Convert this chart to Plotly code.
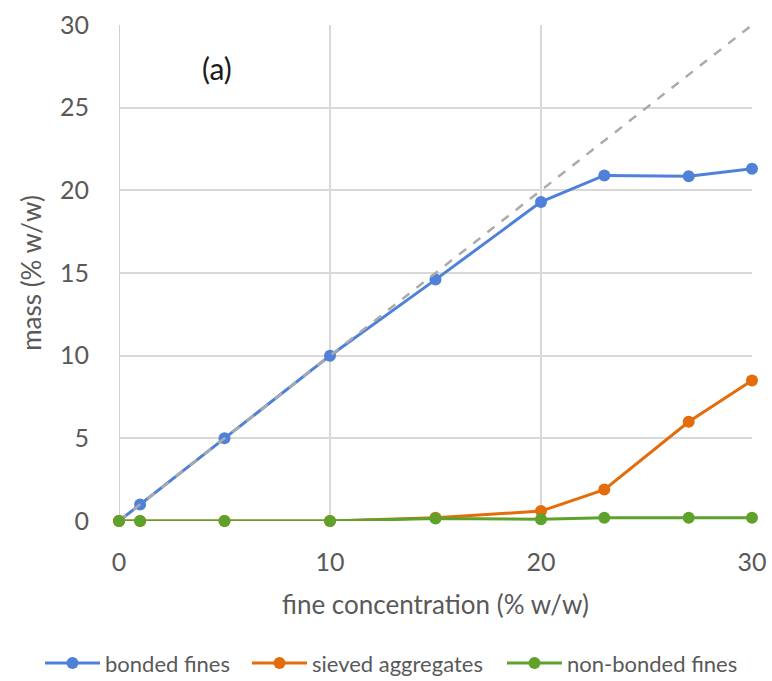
import plotly.graph_objects as go

x_vals = [0, 1, 5, 10, 15, 20, 23, 27, 30]
bonded_fines = [0, 1.0, 5.0, 10.0, 14.6, 19.3, 20.9, 20.85, 21.3]
sieved_aggregates = [0, 0, 0, 0, 0.2, 0.6, 1.9, 6.0, 8.5]
non_bonded_fines = [0, 0, 0, 0, 0.15, 0.1, 0.2, 0.2, 0.2]
ref_x = [0, 30]
ref_y = [0, 30]

FONT = "Lato, Carlito, 'Open Sans', sans-serif"
TXT = "#595959"

fig = go.Figure()
fig.add_trace(go.Scatter(x=x_vals, y=bonded_fines, mode="lines+markers", name="bonded fines", legend="legend",
                         line=dict(color="#4f81d9", width=3), marker=dict(size=12, color="#4f81d9")))
fig.add_trace(go.Scatter(x=ref_x, y=ref_y, mode="lines", showlegend=False,
                         line=dict(color="#ababab", width=2.5, dash="dash"), hoverinfo="skip"))
fig.add_trace(go.Scatter(x=x_vals, y=sieved_aggregates, mode="lines+markers", name="sieved aggregates", legend="legend2",
                         line=dict(color="#e46c0a", width=3), marker=dict(size=12, color="#e46c0a")))
fig.add_trace(go.Scatter(x=x_vals, y=non_bonded_fines, mode="lines+markers", name="non-bonded fines", legend="legend3",
                         line=dict(color="#5fa22b", width=3), marker=dict(size=12, color="#5fa22b")))

fig.update_traces(cliponaxis=False)

leg_common = dict(orientation="h", xref="container", yref="container", xanchor="left",
                  y=0.026, yanchor="middle", bgcolor="rgba(0,0,0,0)",
                  font=dict(size=22, color=TXT), itemwidth=55)

fig.update_layout(
    width=772, height=681,
    margin=dict(l=119, r=20, t=25, b=160, autoexpand=False),
    paper_bgcolor="white", plot_bgcolor="white",
    font=dict(family=FONT, color=TXT),
    xaxis=dict(range=[0, 30], tickvals=[0, 10, 20, 30], showgrid=True, gridcolor="#d9d9d9", gridwidth=1.5,
               zeroline=False, showline=False, ticks="", tickfont=dict(size=25, color=TXT),
               ticklabelstandoff=24,
               title=dict(text="fine concentration (% w/w)", font=dict(size=26, color=TXT), standoff=20)),
    yaxis=dict(range=[0, 30], tickvals=[0, 5, 10, 15, 20, 25, 30], showgrid=True, gridcolor="#d9d9d9", gridwidth=1.5,
               zeroline=False, showline=False, ticks="", tickfont=dict(size=25, color=TXT),
               ticklabelstandoff=29,
               title=dict(text="mass (% w/w)", font=dict(size=26, color=TXT), standoff=10)),
    legend=dict(x=40 / 772, **leg_common),
    legend2=dict(x=247 / 772, **leg_common),
    legend3=dict(x=502 / 772, **leg_common),
    annotations=[dict(text="(a)", x=0.155, y=0.913, xref="paper", yref="paper", showarrow=False,
                      xanchor="center", yanchor="middle",
                      font=dict(size=30, color="#1a1a1a"))],
)
fig.add_shape(type="line", x0=0, x1=0, y0=0, y1=30, xref="x", yref="y", line=dict(color="#bfbfbf", width=1.5), layer="below")

fig.write_html("out.html")
